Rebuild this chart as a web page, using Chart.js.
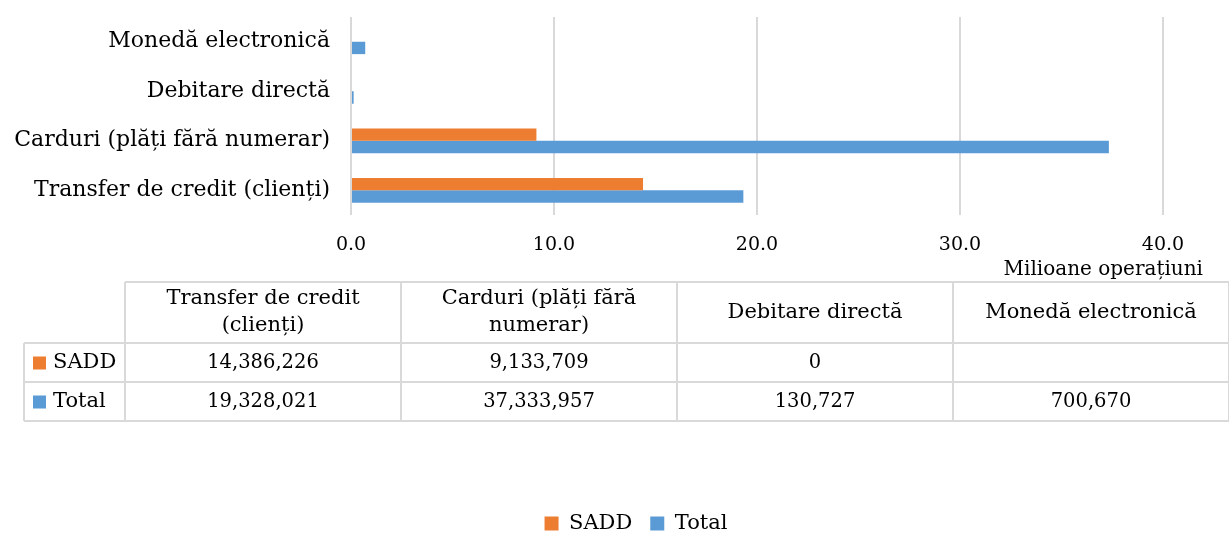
<!DOCTYPE html>
<html>
<head>
<meta charset="utf-8">
<script src="https://cdn.jsdelivr.net/npm/chart.js@4/dist/chart.umd.min.js"></script>
<style>
  html, body { margin: 0; padding: 0; background: #fff; }
  #wrap { width: 1229px; height: 534px; }
</style>
</head>
<body>
<div id="wrap"><canvas id="chart"></canvas></div>
<script>
const categories = ['Transfer de credit (clienți)', 'Carduri (plăți fără numerar)', 'Debitare directă', 'Monedă electronică'];
const saddValues = [14386226, 9133709, 0, null];
const totalValues = [19328021, 37333957, 130727, 700670];
const seriesNames = ['SADD', 'Total'];
const xTickMax = 40;
const xTickStep = 10;
const axisTitle = 'Milioane operațiuni';

const ORANGE = '#ED7D31';
const BLUE = '#5B9BD5';
const GRID = '#d9d9d9';
const FONT = '"DejaVu Serif", serif';

const toMillions = arr => arr.map(v => (v === null ? null : v / 1e6));

// wrap a header label into lines that fit a cell
function wrapText(ctx, text, maxW) {
  const words = text.split(' ');
  const lines = [];
  let line = '';
  words.forEach(w => {
    const test = line ? line + ' ' + w : w;
    if (ctx.measureText(test).width > maxW && line) {
      lines.push(line);
      line = w;
    } else {
      line = test;
    }
  });
  if (line) lines.push(line);
  return lines;
}

const dataTablePlugin = {
  id: 'dataTable',
  afterLayout(chart) {
    // legend sits centred under the table, not under the whole canvas
    chart.legend.left += 109;
  },
  afterDraw(chart) {
    const ctx = chart.ctx;
    const area = chart.chartArea;
    ctx.save();

    // axis title under the tick labels
    ctx.fillStyle = '#000';
    ctx.font = '20px ' + FONT;
    ctx.textAlign = 'right';
    ctx.textBaseline = 'middle';
    ctx.fillText(axisTitle, area.right + 40, 270);

    // data table
    const rowLeft = 24;
    const colLeft = 125;
    const right = chart.width;
    const colW = (right - colLeft) / categories.length;
    const headTop = 282, headBottom = 343, rowH = 39;
    const rowsBottom = headBottom + rowH * chart.data.datasets.length;

    ctx.strokeStyle = GRID;
    ctx.lineWidth = 2;
    ctx.beginPath();
    ctx.moveTo(colLeft, headTop); ctx.lineTo(right, headTop);
    for (let r = 0; r <= chart.data.datasets.length; r++) {
      const y = headBottom + r * rowH;
      ctx.moveTo(rowLeft, y); ctx.lineTo(right, y);
    }
    ctx.moveTo(rowLeft, headBottom); ctx.lineTo(rowLeft, rowsBottom);
    for (let c = 0; c <= categories.length; c++) {
      const x = colLeft + c * colW;
      ctx.moveTo(x, headTop); ctx.lineTo(x, rowsBottom);
    }
    ctx.stroke();

    ctx.font = '21px ' + FONT;
    ctx.fillStyle = '#000';
    ctx.textAlign = 'center';
    categories.forEach((cat, i) => {
      const cx = colLeft + i * colW + colW / 2;
      const lines = wrapText(ctx, cat, colW - 30);
      const lh = 27;
      const cy = (headTop + headBottom) / 2 - (lines.length - 1) * lh / 2;
      lines.forEach((ln, k) => ctx.fillText(ln, cx, cy + k * lh));
    });

    chart.data.datasets.forEach((ds, r) => {
      const cy = headBottom + r * rowH + rowH / 2;
      ctx.fillStyle = ds.backgroundColor;
      ctx.fillRect(rowLeft + 9, cy - 6, 13, 13);
      ctx.fillStyle = '#000';
      ctx.font = '21px ' + FONT;
      ctx.textAlign = 'left';
      ctx.fillText(ds.label, rowLeft + 29, cy);
      ctx.font = '19.5px ' + FONT;
      ctx.textAlign = 'center';
      ds.raw.forEach((v, i) => {
        if (v === null) return;
        ctx.fillText(v.toLocaleString('en-US'), colLeft + i * colW + colW / 2, cy);
      });
    });

    ctx.restore();
  }
};

new Chart(document.getElementById('chart'), {
  type: 'bar',
  data: {
    labels: categories,
    datasets: [
      { label: seriesNames[0], data: toMillions(saddValues), raw: saddValues, backgroundColor: ORANGE },
      { label: seriesNames[1], data: toMillions(totalValues), raw: totalValues, backgroundColor: BLUE }
    ]
  },
  options: {
    indexAxis: 'y',
    responsive: true,
    maintainAspectRatio: false,
    animation: false,
    layout: { padding: { top: 17, right: 66, left: 0, bottom: -10 } },
    datasets: { bar: { categoryPercentage: 0.5, barPercentage: 1.0 } },
    scales: {
      x: {
        min: 0,
        max: xTickMax,
        ticks: {
          stepSize: xTickStep,
          callback: v => v.toFixed(1),
          color: '#000',
          font: { family: FONT, size: 19 },
          padding: 19
        },
        grid: { color: GRID, lineWidth: 2, drawTicks: false },
        border: { display: false },
        afterFit: scale => { scale.height = 280; }
      },
      y: {
        reverse: true,
        ticks: {
          color: '#000',
          font: { family: FONT, size: 22 },
          padding: 13
        },
        grid: { display: false },
        border: { display: false },
        afterFit: scale => {
          scale.width = 351;
          scale.paddingTop = 0;
          scale.paddingBottom = 0;
        }
      }
    },
    plugins: {
      legend: {
        position: 'bottom',
        labels: {
          color: '#000',
          font: { family: FONT, size: 21 },
          boxWidth: 14,
          boxHeight: 14,
          padding: 18
        }
      },
      tooltip: { enabled: false }
    }
  },
  plugins: [dataTablePlugin]
});
</script>
</body>
</html>
